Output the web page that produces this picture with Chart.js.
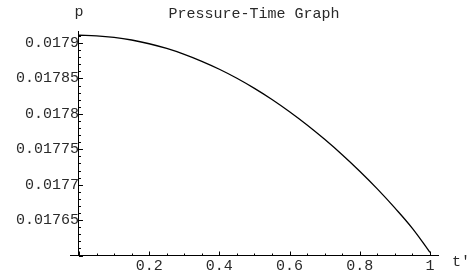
<!DOCTYPE html>
<html><head><meta charset="utf-8">
<script src="https://cdn.jsdelivr.net/npm/chart.js@4/dist/chart.umd.min.js"></script>
<style>html,body{margin:0;padding:0;background:#fff}canvas{display:block}</style>
</head><body>
<canvas id="c" width="467" height="276"></canvas>
<script>
// ---- data ----
const tValues = [0, 0.05, 0.1, 0.15, 0.2, 0.25, 0.3, 0.35, 0.4, 0.45, 0.5, 0.55, 0.6, 0.65, 0.7, 0.75, 0.8, 0.85, 0.9, 0.95, 1];
const pValues = [0.017911, 0.0179102, 0.017908, 0.0179043, 0.017899, 0.0178923, 0.017884, 0.0178742, 0.017863, 0.0178503, 0.017836, 0.0178203, 0.017803, 0.0177843, 0.017764, 0.0177423, 0.017719, 0.0176941, 0.0176672, 0.0176383, 0.0176045];
const xTickLabels = [0.2, 0.4, 0.6, 0.8, 1];
const yTickLabels = [0.01765, 0.0177, 0.01775, 0.0178, 0.01785, 0.0179];
const titleText = 'Pressure-Time Graph';
const xAxisLabel = "t'";
const yAxisLabel = 'p';

const FONT = "'Liberation Mono', 'DejaVu Sans Mono', monospace";
const TEXT_COLOR = '#2a2a2a';

const decorations = {
  id: 'decorations',
  afterDraw(chart) {
    const {ctx, scales: {x, y}} = chart;
    const axisY = y.getPixelForValue(y.min);
    const axisX = x.getPixelForValue(0);
    ctx.save();
    ctx.strokeStyle = '#000';
    ctx.lineWidth = 1;
    ctx.beginPath();
    // x-axis tick marks (major every 0.2, minor every 0.05)
    for (let k = 0; k <= 20; k++) {
      const px = Math.round(x.getPixelForValue(k * 0.05)) + 0.5;
      const len = (k % 4 === 0) ? 4 : 2;
      ctx.moveTo(px, axisY);
      ctx.lineTo(px, axisY - len);
    }
    // y-axis tick marks (major every 0.00005, minor every 0.00001)
    for (let k = 0; k <= 31; k++) {
      const v = y.min + k * 0.00001;
      if (v > y.max) break;
      const py = Math.round(y.getPixelForValue(v)) + 0.5;
      const len = (k % 5 === 0) ? 4 : 2;
      ctx.moveTo(axisX, py);
      ctx.lineTo(axisX + len, py);
    }
    ctx.stroke();
    // axis labels
    ctx.fillStyle = TEXT_COLOR;
    ctx.font = '15px ' + FONT;
    ctx.textAlign = 'center';
    ctx.textBaseline = 'alphabetic';
    ctx.fillText(yAxisLabel, axisX, 16);
    ctx.textAlign = 'left';
    ctx.textBaseline = 'middle';
    ctx.fillText(xAxisLabel, x.right + 14, axisY + 7);
    ctx.restore();
  }
};

new Chart(document.getElementById('c'), {
  type: 'line',
  data: {
    datasets: [{
      data: tValues.map((t, i) => ({x: t, y: pValues[i]})),
      borderColor: '#000',
      borderWidth: 1.3,
      pointRadius: 0,
      fill: false,
      tension: 0.4
    }]
  },
  options: {
    responsive: false,
    animation: false,
    devicePixelRatio: 1,
    layout: {padding: {left: 70, right: 29, top: 0, bottom: 0}},
    plugins: {
      legend: {display: false},
      tooltip: {enabled: false},
      title: {
        display: true,
        text: titleText,
        color: TEXT_COLOR,
        font: {family: FONT, size: 15, weight: 'normal', lineHeight: 1.2},
        padding: {top: 5.5, bottom: 7.5}
      }
    },
    scales: {
      x: {
        type: 'linear',
        min: -0.0256,
        max: 1.023,
        grid: {display: false, drawTicks: false},
        border: {display: true, color: '#000', width: 1},
        afterBuildTicks: s => { s.ticks = xTickLabels.map(v => ({value: v})); },
        afterFit: s => { s.height = 20.5; },
        ticks: {
          color: TEXT_COLOR,
          font: {family: FONT, size: 15, lineHeight: 1.2},
          padding: 1.5,
          maxRotation: 0,
          autoSkip: false,
          callback: v => String(Number(v.toFixed(2)))
        }
      },
      y: {
        type: 'linear',
        position: {x: 0},
        min: 0.0176,
        max: 0.017917,
        grid: {display: false, drawTicks: false},
        border: {display: true, color: '#000', width: 1},
        afterBuildTicks: s => { s.ticks = yTickLabels.map(v => ({value: v})); },
        ticks: {
          color: TEXT_COLOR,
          font: {family: FONT, size: 15},
          padding: 5,
          autoSkip: false,
          callback: v => String(Number(v.toFixed(5)))
        }
      }
    }
  },
  plugins: [decorations]
});
</script>
</body></html>
